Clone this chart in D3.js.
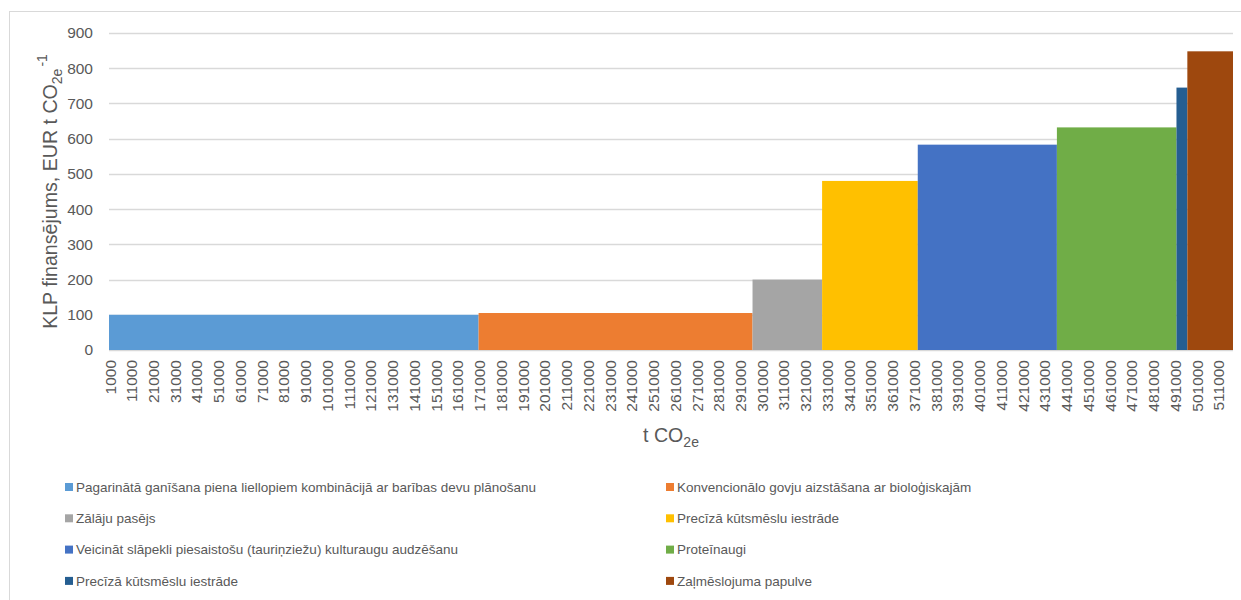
<!DOCTYPE html>
<html>
<head>
<meta charset="utf-8">
<script src="https://cdn.jsdelivr.net/npm/d3@7"></script>
<style>
  html, body { margin: 0; padding: 0; background: #ffffff; }
  svg { display: block; font-family: "Liberation Sans", Arial, sans-serif; }
</style>
</head>
<body>
<svg id="chart" width="1241" height="600"></svg>
<script>
// Measures, in order of increasing cost
const measures = [
  "Pagarinātā ganīšana piena liellopiem kombinācijā ar barības devu plānošanu",
  "Konvencionālo govju aizstāšana ar bioloģiskajām",
  "Zālāju pasējs",
  "Precīzā kūtsmēslu iestrāde",
  "Veicināt slāpekli piesaistošu (tauriņziežu) kulturaugu audzēšanu",
  "Proteīnaugi",
  "Precīzā kūtsmēslu iestrāde",
  "Zaļmēslojuma papulve"
];
// Emission reduction of each measure, t CO2e
const abatement = [170000, 126000, 32000, 44000, 64000, 55000, 5000, 21000];
// CAP funding per tonne, EUR t CO2e^-1
const cost = [100, 105, 200, 480, 583, 632, 745, 848];
const colors = ["#5B9BD5", "#ED7D31", "#A5A5A5", "#FFC000", "#4472C4", "#70AD47", "#255E91", "#9E480E"];

// Category axis: one category per 1000 t, labels every 10th
const categoryStep = 1000;
const tickLabels = [1000, 11000, 21000, 31000, 41000, 51000, 61000, 71000, 81000, 91000,
  101000, 111000, 121000, 131000, 141000, 151000, 161000, 171000, 181000, 191000,
  201000, 211000, 221000, 231000, 241000, 251000, 261000, 271000, 281000, 291000,
  301000, 311000, 321000, 331000, 341000, 351000, 361000, 371000, 381000, 391000,
  401000, 411000, 421000, 431000, 441000, 451000, 461000, 471000, 481000, 491000,
  501000, 511000];
const yTicks = [0, 100, 200, 300, 400, 500, 600, 700, 800, 900];

const svg = d3.select("#chart");
const textColor = "#595959";
const gridColor = "#D9D9D9";

const plot = { left: 109, right: 1233, top: 33, bottom: 350 };

// Cumulative extents of each measure
let acc = 0;
const bars = measures.map((name, i) => {
  const start = acc;
  acc += abatement[i];
  return { name, start, end: acc, cost: cost[i], color: colors[i] };
});
const total = acc;
const categories = d3.range(categoryStep, total + 1, categoryStep);

const x = d3.scaleBand().domain(categories).range([plot.left, plot.right]).padding(0);
const y = d3.scaleLinear().domain([0, 900]).range([plot.bottom, plot.top]);

// Outer chart border
svg.append("rect")
  .attr("x", 9.5).attr("y", 11.5)
  .attr("width", 1240).attr("height", 600)
  .attr("fill", "none").attr("stroke", gridColor).attr("stroke-width", 1);

// Horizontal gridlines
svg.append("g")
  .selectAll("line")
  .data(yTicks)
  .join("line")
  .attr("x1", plot.left).attr("x2", plot.right)
  .attr("y1", d => Math.round(y(d)) + 0.5).attr("y2", d => Math.round(y(d)) + 0.5)
  .attr("stroke", gridColor).attr("stroke-width", 1.3);

// Bars: each measure spans its range of categories
svg.append("g")
  .selectAll("rect")
  .data(bars)
  .join("rect")
  .attr("x", d => x(d.start + categoryStep))
  .attr("width", d => x(d.end) + x.bandwidth() - x(d.start + categoryStep))
  .attr("y", d => y(d.cost))
  .attr("height", d => y(0) - y(d.cost))
  .attr("fill", d => d.color);

// Y axis labels
const yAxis = svg.append("g")
  .attr("transform", `translate(${plot.left},0)`)
  .call(d3.axisLeft(y).tickValues(yTicks).tickSize(0).tickPadding(16));
yAxis.select(".domain").remove();
yAxis.selectAll("text")
  .attr("fill", textColor)
  .style("font-size", "15.5px")
  .style("font-family", "'Liberation Sans', Arial, sans-serif");

// X axis labels (rotated)
const xAxis = svg.append("g")
  .attr("transform", `translate(0,${plot.bottom})`)
  .call(d3.axisBottom(x).tickValues(tickLabels).tickSize(0).tickFormat(d3.format("d")));
xAxis.select(".domain").remove();
xAxis.selectAll("text")
  .attr("fill", textColor)
  .style("font-size", "15.5px")
  .style("font-family", "'Liberation Sans', Arial, sans-serif")
  .attr("transform", "rotate(-90)")
  .attr("text-anchor", "end")
  .attr("x", -10)
  .attr("y", 0)
  .attr("dy", "0.35em");

// Y axis title
const yTitle = svg.append("text")
  .attr("transform", `translate(57,${(plot.top + plot.bottom) / 2}) rotate(-90)`)
  .attr("text-anchor", "middle")
  .attr("fill", textColor)
  .style("font-size", "19.6px");
yTitle.append("tspan").text("KLP finansējums, EUR t CO");
yTitle.append("tspan").attr("dy", 5).style("font-size", "14px").text("2e");
yTitle.append("tspan").attr("dy", -15).attr("dx", 2).style("font-size", "14px").text("-1");

// X axis title
const xTitle = svg.append("text")
  .attr("x", (plot.left + plot.right) / 2)
  .attr("y", 442)
  .attr("text-anchor", "middle")
  .attr("fill", textColor)
  .style("font-size", "19.6px");
xTitle.append("tspan").text("t CO");
xTitle.append("tspan").attr("dy", 5).style("font-size", "14px").text("2e");

// Legend: two columns, filled row by row
const legendCols = [65, 666];
const legend = svg.append("g")
  .selectAll("g")
  .data(bars)
  .join("g")
  .attr("transform", (d, i) => `translate(${legendCols[i % 2]},${487 + Math.floor(i / 2) * 31.3})`);
legend.append("rect")
  .attr("x", 0).attr("y", -4)
  .attr("width", 8).attr("height", 8)
  .attr("fill", d => d.color);
legend.append("text")
  .attr("x", 11).attr("y", 0).attr("dy", "0.35em")
  .attr("fill", textColor)
  .style("font-size", "13.5px")
  .text(d => d.name);
</script>
</body>
</html>
